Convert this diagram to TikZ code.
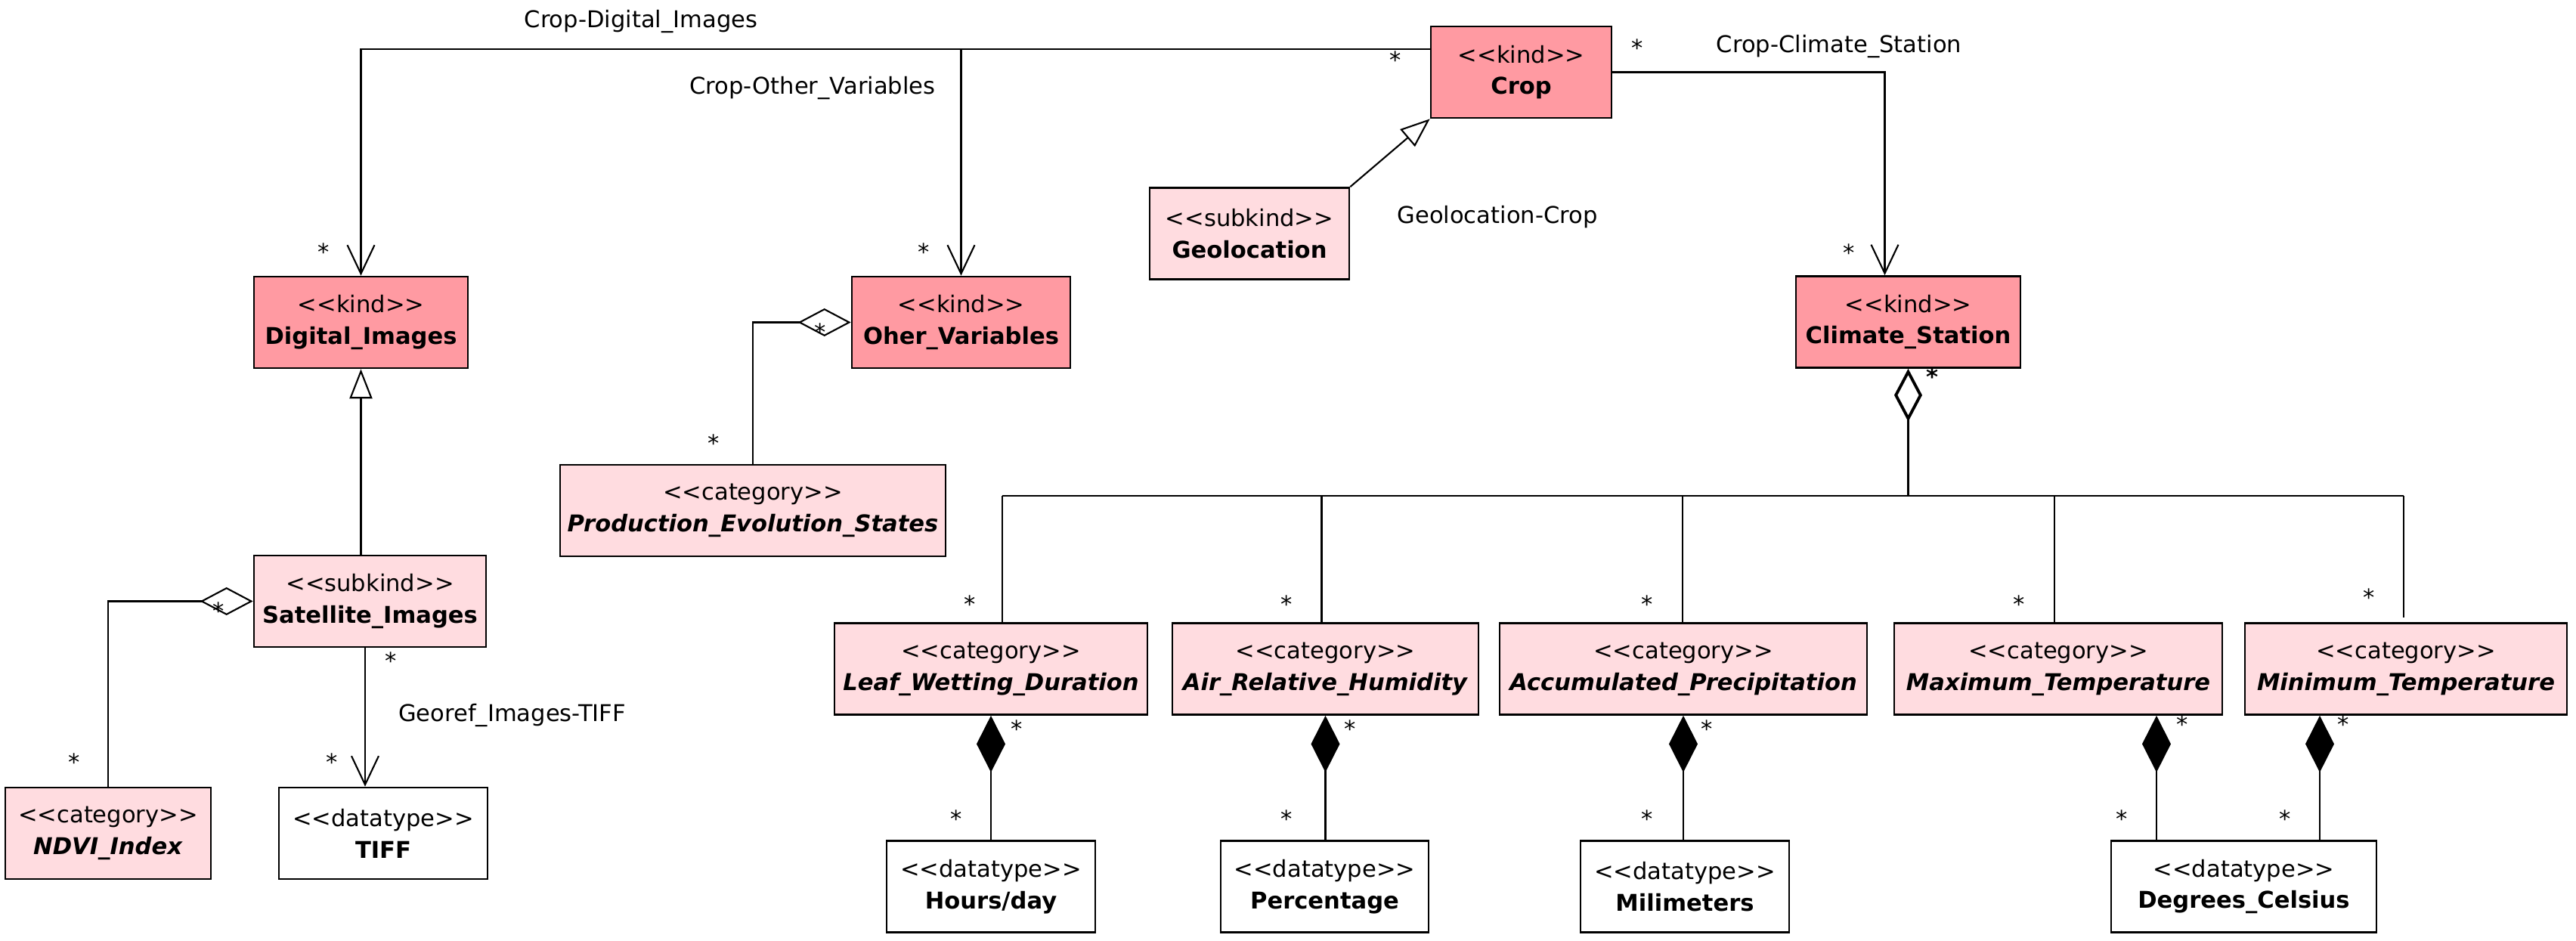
\documentclass[tikz,border=0pt]{standalone}
\usepackage{fontspec}
\setmainfont{DejaVu Sans}[Ligatures=TeXOff]
\usepackage{tikz}
\usetikzlibrary{arrows.meta,calc}
\definecolor{cKind}{HTML}{FF9AA2}
\definecolor{cSub}{HTML}{FFDCE0}
\newcommand{\umlfont}{\fontsize{8.7}{11.9}\selectfont}
\tikzset{
  cls/.style={draw=black,fill=#1,line width=0.75pt,align=center,inner sep=0pt,minimum height=1.21cm,font=\umlfont},
  cls/.default=white,
  conn/.style={line width=0.6pt},
  assoc/.style={conn,-{Straight Barb[length=3.8mm,width=3.6mm]}},
  gen/.style={conn,-{Triangle[open,length=3.9mm,width=3mm,fill=white]}},
  agg/.style={conn,{Diamond[open,length=7mm,width=3.7mm,fill=white]}-},
  comp/.style={conn,{Diamond[length=7.5mm,width=3.8mm]}-},
  mult/.style={font=\umlfont,inner sep=0pt},
  lbl/.style={font=\umlfont,inner sep=0pt},
}

\begin{document}
\begin{tikzpicture}[x=1cm,y=1cm]
  \useasboundingbox (0,0) rectangle (34.08,-12.45);
  % kinds
  \node[cls=cKind,minimum width=2.39cm] (Crop)    at (20.125,-0.955) {<<kind>>\\\textbf{Crop}};
  \node[cls=cKind,minimum width=2.83cm] (DigImg)  at (4.775,-4.265)  {<<kind>>\\\textbf{Digital\_Images}};
  \node[cls=cKind,minimum width=2.89cm] (OherVar) at (12.715,-4.265) {<<kind>>\\\textbf{Oher\_Variables}};
  \node[cls=cKind,minimum width=2.97cm] (Climate) at (25.245,-4.26)  {<<kind>>\\\textbf{Climate\_Station}};
  % subkinds and categories
  \node[cls=cSub,minimum width=2.64cm] (Geo)    at (16.53,-3.09)  {<<subkind>>\\\textbf{Geolocation}};
  \node[cls=cSub,minimum width=3.07cm] (SatImg) at (4.895,-7.955) {<<subkind>>\\\textbf{Satellite\_Images}};
  \node[cls=cSub,minimum width=5.10cm] (Prod)   at (9.96,-6.755)  {<<category>>\\\textbf{\textit{Production\_Evolution\_States}}};
  \node[cls=cSub,minimum width=2.72cm] (NDVI)   at (1.43,-11.025) {<<category>>\\\textbf{\textit{NDVI\_Index}}};
  \node[cls=cSub,minimum width=4.14cm] (Leaf)   at (13.11,-8.85)  {<<category>>\\\textbf{\textit{Leaf\_Wetting\_Duration}}};
  \node[cls=cSub,minimum width=4.05cm] (Air)    at (17.535,-8.85) {<<category>>\\\textbf{\textit{Air\_Relative\_Humidity}}};
  \node[cls=cSub,minimum width=4.86cm] (Accum)  at (22.27,-8.85)  {<<category>>\\\textbf{\textit{Accumulated\_Precipitation}}};
  \node[cls=cSub,minimum width=4.34cm] (Max)    at (27.23,-8.85)  {<<category>>\\\textbf{\textit{Maximum\_Temperature}}};
  \node[cls=cSub,minimum width=4.26cm] (Min)    at (31.83,-8.85)  {<<category>>\\\textbf{\textit{Minimum\_Temperature}}};
  % datatypes
  \node[cls,minimum width=2.76cm] (TIFF)    at (5.07,-11.025)  {<<datatype>>\\\textbf{TIFF}};
  \node[cls,minimum width=2.76cm] (Hours)   at (13.11,-11.73)  {<<datatype>>\\\textbf{Hours/day}};
  \node[cls,minimum width=2.75cm] (Perc)    at (17.525,-11.73) {<<datatype>>\\\textbf{Percentage}};
  \node[cls,minimum width=2.76cm] (Mili)    at (22.29,-11.73)  {<<datatype>>\\\textbf{Milimeters}};
  \node[cls,minimum width=3.51cm] (Degrees) at (29.685,-11.73) {<<datatype>>\\\textbf{Degrees\_Celsius}};

  % associations out of Crop
  \coordinate (cropW) at ($(Crop.north west)!0.25!(Crop.south west)$);
  \draw[assoc] (cropW) -| (DigImg.north);
  \draw[assoc] (cropW -| OherVar.north) -- (OherVar.north);
  \draw[assoc] (Crop.east) -| ([xshift=-0.31cm]Climate.north);
  \draw[assoc] ([xshift=-0.065cm]SatImg.south) -- ([xshift=-0.065cm]SatImg.south |- TIFF.north);
  % generalizations
  \draw[gen] (Geo.north east) -- (Crop.south west);
  \draw[gen] (DigImg.south |- SatImg.north) -- (DigImg.south);
  % aggregations
  \draw[agg] (SatImg.west) -| (NDVI.north);
  \draw[agg] (OherVar.west) -| (Prod.north);
  \draw[agg,line width=1.1pt] (Climate.south) -- ++(0,-1.68) coordinate (bus);
  \draw[conn] ([xshift=0.15cm]bus -| Leaf.north) -- ([xshift=-0.03cm]bus -| Min.north);
  \foreach \c/\dx in {Leaf/0.15,Air/-0.05,Accum/-0.01,Max/-0.05}
    \draw[conn] ([xshift=\dx cm]bus -| \c.north) -- ([xshift=\dx cm]\c.north);
  \draw[conn] ([xshift=-0.03cm]bus -| Min.north) -- ([xshift=-0.03cm,yshift=0.06cm]Min.north);
  % compositions
  \foreach \c/\d in {Leaf/Hours,Air/Perc,Accum/Mili}
    \draw[comp] (\c.south) -- (\c.south |- \d.north);
  \draw[comp] ([xshift=1.3cm]Max.south) -- ([xshift=1.3cm]Max.south |- Degrees.north);
  \draw[comp] ([xshift=-1.14cm]Min.south) -- ([xshift=-1.14cm]Min.south |- Degrees.north);

  % association names
  \node[lbl] (lCDI) at (8.48,-0.28)  {Crop-Digital\_Images};
  \node[lbl] (lCOV) at (10.75,-1.17) {Crop-Other\_Variables};
  \node[lbl] (lCCS) at (24.33,-0.62) {Crop-Climate\_Station};
  \node[lbl] (lGC)  at (19.81,-2.87) {Geolocation-Crop};
  \node[lbl] (lGIT) at (6.775,-9.46) {Georef\_Images-TIFF};
  % multiplicities
  \foreach \x/\y [count=\i] in {18.46/0.79,21.66/0.63,4.28/3.33,12.22/3.33,24.46/3.34,
      10.85/4.39,9.44/5.86,2.89/8.08,0.98/10.08,5.17/8.74,4.39/10.08,
      12.83/7.99,17.02/7.99,21.79/7.99,26.71/7.99,31.34/7.90,
      13.45/9.64,17.86/9.64,22.58/9.64,28.87/9.58,31.00/9.58,
      12.65/10.83,17.02/10.83,21.79/10.83,28.07/10.83,30.23/10.83}
    \node[mult] (m\i) at (\x,-\y) {*};
  \node[mult,font=\umlfont\bfseries] (mCS) at (25.56,-4.98) {*};
\end{tikzpicture}
\end{document}
